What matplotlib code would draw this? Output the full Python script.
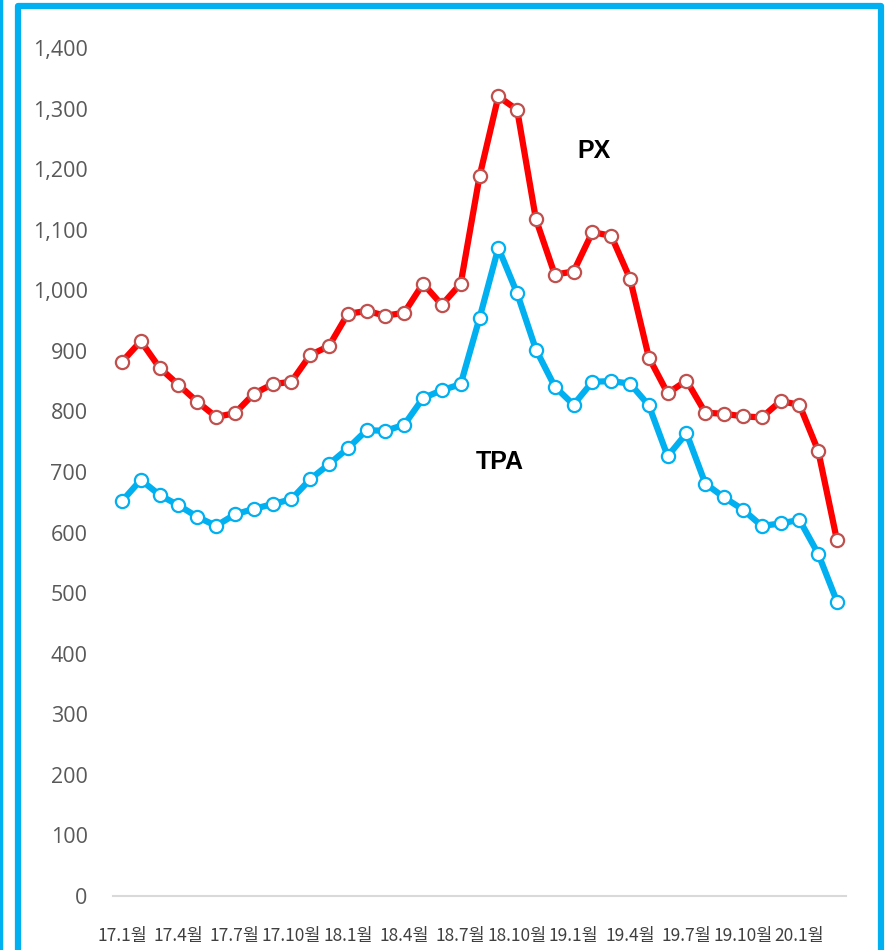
import matplotlib
matplotlib.use("Agg")
import matplotlib.pyplot as plt
from matplotlib.patches import Rectangle
from matplotlib.lines import Line2D

# monthly prices, 17.1 ~ 20.3
months = [f"{y}.{m}월" for y in (17, 18, 19, 20) for m in range(1, 13)][:39]

px = [882, 916, 872, 844, 816, 791, 797, 829, 845, 849,
      893, 908, 961, 966, 958, 963, 1011, 976, 1011, 1188,
      1320, 1298, 1117, 1026, 1031, 1096, 1090, 1019, 889, 830,
      851, 798, 796, 792, 790, 817, 811, 735, 587]

tpa = [652, 687, 662, 645, 626, 611, 630, 639, 647, 655,
       688, 713, 739, 769, 768, 778, 822, 835, 845, 954,
       1070, 995, 902, 841, 811, 849, 850, 846, 810, 726,
       764, 681, 658, 638, 611, 615, 621, 565, 486]

yticks = list(range(0, 1401, 100))

fig = plt.figure(figsize=(8.87, 9.5), dpi=100)
ax = fig.add_axes([0.12695, 0.05684, 0.8273, 0.89263])

x = list(range(len(months)))
ax.plot(x, px, color="#ff0000", lw=4.5, marker="o", ms=9.5,
        mfc="white", mec="#c0504d", mew=1.6, zorder=3)
ax.plot(x, tpa, color="#00b0f0", lw=4.5, marker="o", ms=9.5,
        mfc="white", mec="#00b0f0", mew=1.6, zorder=3)

ax.text(25.08, 1230, "PX", fontsize=18, fontweight="bold",
        family=["Liberation Sans", "DejaVu Sans"], ha="center", va="center")
ax.text(20.06, 716, "TPA", fontsize=18, fontweight="bold",
        family=["Liberation Sans", "DejaVu Sans"], ha="center", va="center")

ax.set_xlim(-0.5, len(months) - 0.5)
ax.set_ylim(0, 1400)
ax.set_yticks(yticks)
ax.set_yticklabels([f"{v:,}" for v in yticks], family="Open Sans",
                   fontsize=15.5, color="#595959")
ax.set_xticks(x[::3])
ax.set_xticklabels(months[::3], family=["Noto Sans CJK KR", "DejaVu Sans"],
                   fontsize=12.5, color="#404040")
ax.tick_params(length=0)
ax.tick_params(axis="y", pad=18)
ax.tick_params(axis="x", pad=22)

for s in ("top", "right", "left"):
    ax.spines[s].set_visible(False)
ax.spines["bottom"].set_color("#d9d9d9")
ax.spines["bottom"].set_linewidth(1.5)

# blue frame around the chart
fig.patches.append(Rectangle((17.5 / 887, -0.1), (881 - 17.5) / 887, 0.1 + 1 - 6 / 950,
                             transform=fig.transFigure, fill=False,
                             edgecolor="#00b0f0", lw=4.5, joinstyle="round"))
fig.lines.append(Line2D([1 / 887, 1 / 887], [0, 1], transform=fig.transFigure,
                        color="#00b0f0", lw=2.5))

fig.savefig("out.png", dpi=100)
